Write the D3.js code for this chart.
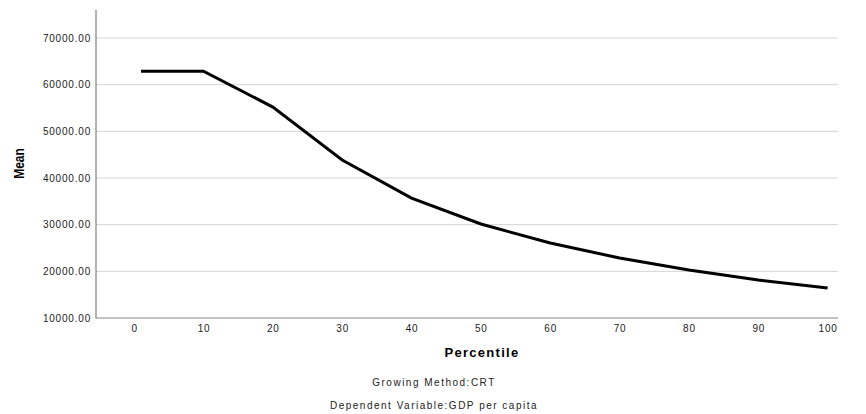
<html>
<head>
  <title>Mean by Percentile</title>
  <script src='https://d3js.org/d3.v7.min.js'></script>
  <style>
    body { margin: 0; background: #fff; }
    text { font-family: "Liberation Sans", Arial, sans-serif; }
  </style>
</head>
<body>
  <script>
var width = 866,
    height = 414;

// values
var percentiles = [1, 10, 20, 30, 40, 50, 60, 70, 80, 90, 100];
var means = [62900, 62900, 55200, 43850, 35700, 30140, 26070, 22860, 20300, 18140, 16430];
var xTicks = [0, 10, 20, 30, 40, 50, 60, 70, 80, 90, 100];
var yTicks = [10000, 20000, 30000, 40000, 50000, 60000, 70000];

var svg = d3.select('body')
  .append('svg')
  .attr('width', width)
  .attr('height', height);

var x = d3.scaleLinear()
  .domain([-5.5, 101.5])
  .range([96, 838]);

var y = d3.scaleLinear()
  .domain([10000, 70000])
  .range([318, 38]);

// grid lines
svg.append('g')
  .selectAll('line')
  .data(yTicks.slice(1))
  .enter()
  .append('line')
    .attr('x1', 96)
    .attr('x2', 838)
    .attr('y1', d => y(d))
    .attr('y2', d => y(d))
    .attr('stroke', '#d4d4d4')
    .attr('stroke-width', 1);

var yAxis = svg.append('g')
  .attr('transform', 'translate(96,0)')
  .call(d3.axisLeft(y).tickValues(yTicks).tickSize(0).tickPadding(5).tickFormat(d3.format('.2f')));
yAxis.select('.domain').remove();
yAxis.selectAll('text').attr('font-size', 10).attr('fill', '#222').style('letter-spacing', '0.8px');

var xAxis = svg.append('g')
  .attr('transform', 'translate(0,318)')
  .call(d3.axisBottom(x).tickValues(xTicks).tickSize(0).tickPadding(7));
xAxis.select('.domain').remove();
xAxis.selectAll('text').attr('font-size', 10).attr('fill', '#222').style('letter-spacing', '0.8px');

// axis lines
svg.append('line')
  .attr('x1', 96).attr('x2', 96)
  .attr('y1', 10).attr('y2', 318.5)
  .attr('stroke', '#666').attr('stroke-width', 1);
svg.append('line')
  .attr('x1', 96).attr('x2', 838)
  .attr('y1', 318).attr('y2', 318)
  .attr('stroke', '#888').attr('stroke-width', 1);

var line = d3.line()
  .x((d, i) => x(percentiles[i]))
  .y(d => y(d));

svg.append('path')
  .datum(means)
  .attr('d', line)
  .attr('fill', 'none')
  .attr('stroke', '#000')
  .attr('stroke-width', 3);

// narrow bold "Mean"
svg.append('text')
  .attr('transform', 'translate(24,163.5) rotate(-90) scale(0.8,1)')
  .attr('text-anchor', 'middle')
  .attr('font-weight', 'bold')
  .attr('font-size', 15)
  .text('Mean');

svg.append('text')
  .attr('x', 482).attr('y', 357)
  .attr('text-anchor', 'middle')
  .attr('font-weight', 'bold')
  .attr('font-size', 13)
  .style('letter-spacing', '1.3px')
  .text('Percentile');

svg.append('text')
  .attr('x', 434).attr('y', 386)
  .attr('text-anchor', 'middle')
  .attr('font-size', 10)
  .attr('fill', '#222')
  .style('letter-spacing', '1.5px')
  .text('Growing Method:CRT');

svg.append('text')
  .attr('x', 434).attr('y', 409)
  .attr('text-anchor', 'middle')
  .attr('font-size', 10)
  .attr('fill', '#222')
  .style('letter-spacing', '1.5px')
  .text('Dependent Variable:GDP per capita');
  </script>
</body>
</html>
